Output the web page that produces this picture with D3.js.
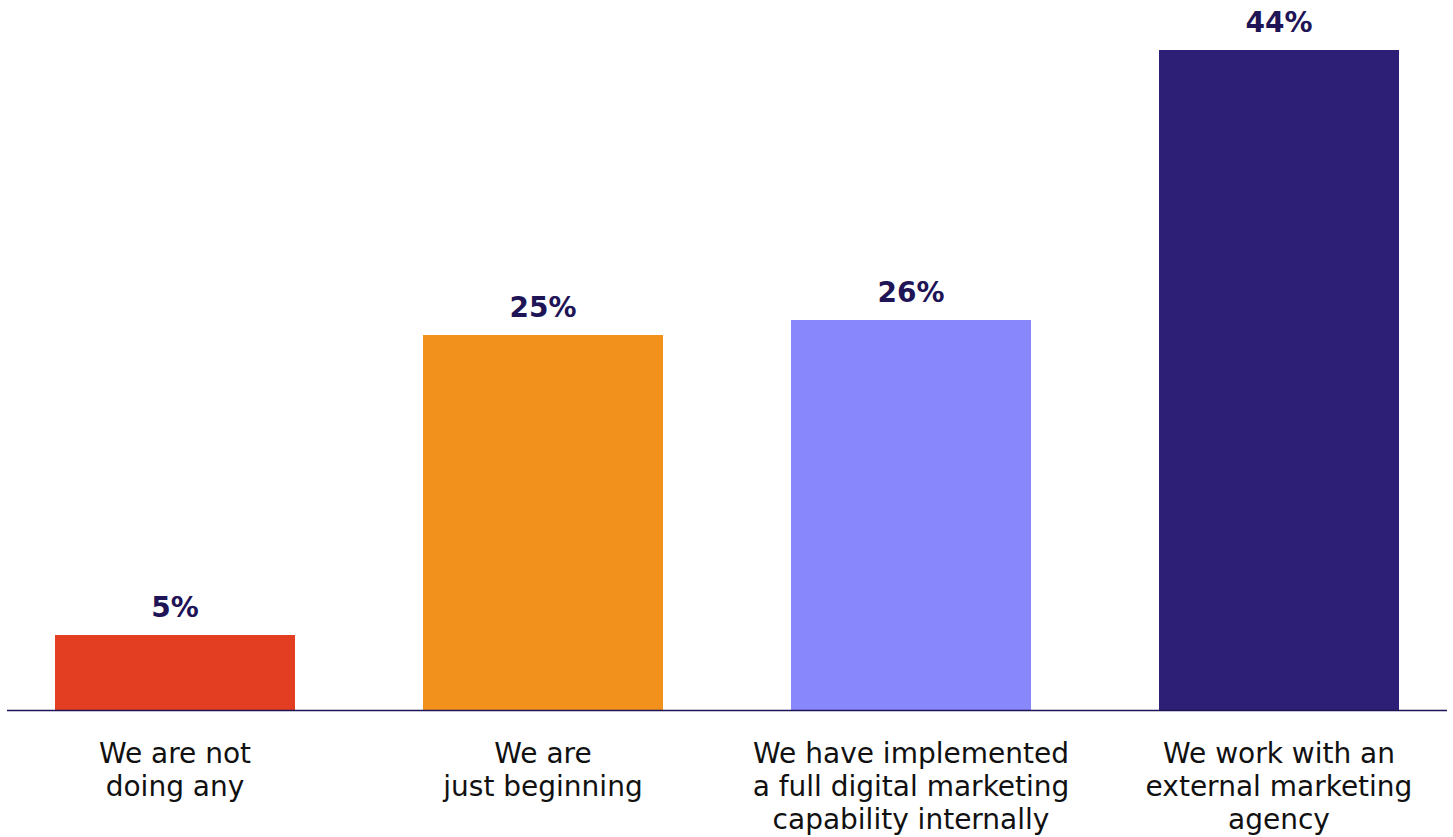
<!DOCTYPE html>
<html>
<head>
<meta charset="utf-8">
<script src="https://cdn.jsdelivr.net/npm/d3@7"></script>
<style>
  html, body { margin: 0; padding: 0; background: #ffffff; }
  svg { display: block; }
</style>
</head>
<body>
<svg id="chart" width="1453" height="837"></svg>
<script>
// Survey responses: stage of digital marketing capability
const categories = [
  ["We are not", "doing any"],
  ["We are", "just beginning"],
  ["We have implemented", "a full digital marketing", "capability internally"],
  ["We work with an", "external marketing", "agency"]
];
const values = [5, 25, 26, 44];
const barColors = ["#E33E21", "#F2921C", "#8888FC", "#2C1F75"];

const svg = d3.select("#chart");

const baseline = 710;
const x = d3.scaleBand()
  .domain(d3.range(values.length))
  .range([55, 1399])
  .paddingInner(128 / 368)
  .paddingOuter(0);

const y = d3.scaleLinear().domain([0, 44]).range([baseline, 50]);

// bars
svg.append("g").selectAll("rect")
  .data(values)
  .join("rect")
  .attr("x", (d, i) => x(i))
  .attr("width", x.bandwidth())
  .attr("y", d => y(d))
  .attr("height", d => baseline - y(d))
  .attr("fill", (d, i) => barColors[i]);

// value labels
svg.append("g").selectAll("text")
  .data(values)
  .join("text")
  .attr("x", (d, i) => x(i) + x.bandwidth() / 2)
  .attr("y", d => y(d) - 18)
  .attr("text-anchor", "middle")
  .attr("font-family", "'DejaVu Sans', sans-serif")
  .attr("font-weight", 700)
  .attr("font-size", 28)
  .attr("fill", "#1E1456")
  .text(d => d + "%");

// baseline axis
svg.append("line")
  .attr("x1", 7).attr("x2", 1447)
  .attr("y1", baseline + 0.5).attr("y2", baseline + 0.5)
  .attr("stroke", "#1E1456")
  .attr("stroke-width", 1.5);

// category labels
const lab = svg.append("g").selectAll("text")
  .data(categories)
  .join("text")
  .attr("text-anchor", "middle")
  .attr("font-family", "'DejaVu Sans', sans-serif")
  .attr("font-size", 28)
  .attr("fill", "#111111");

lab.selectAll("tspan")
  .data((d, i) => d.map(t => ({ t, i })))
  .join("tspan")
  .attr("x", d => x(d.i) + x.bandwidth() / 2)
  .attr("y", (d, j) => 763 + j * 33)
  .text(d => d.t);
</script>
</body>
</html>
